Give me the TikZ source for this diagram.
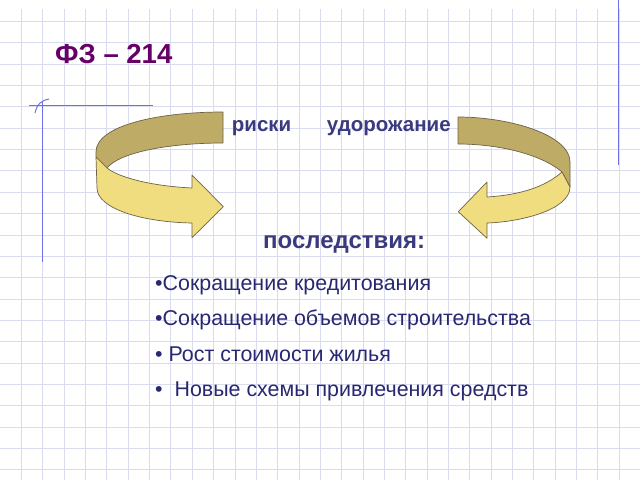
\documentclass[tikz,border=0pt]{standalone}
\usepackage{fontspec}
\setmainfont{Liberation Sans}
\usepackage{tikz}
\definecolor{gridc}{RGB}{218,221,240}
\definecolor{margc}{RGB}{112,112,228}
\definecolor{titlec}{RGB}{102,0,102}
\definecolor{labc}{RGB}{58,58,128}
\definecolor{itemc}{RGB}{40,40,112}
\definecolor{bandd}{RGB}{190,172,102}
\definecolor{bandl}{RGB}{240,221,128}
\definecolor{bandline}{RGB}{110,98,72}
\tikzstyle{gl}=[draw=gridc,
                line width=0.7pt]
\tikzstyle{ml}=[draw=margc,
                line width=1pt]
\tikzstyle{backband}=[fill=bandd,
                draw=bandline,
                line width=0.7pt,
                line join=round]
\tikzstyle{frontband}=[fill=bandl,
                draw=bandline,
                line width=0.7pt,
                line join=round]
\tikzstyle{ttl}=[text=titlec,
                font=\bfseries\fontsize{27.5}{32}\selectfont,
                inner sep=0pt,
                anchor=base west]
\tikzstyle{lab}=[text=labc,
                font=\bfseries\fontsize{20.5}{24}\selectfont,
                inner sep=0pt,
                anchor=base west]
\tikzstyle{item}=[text=itemc,
                font=\fontsize{21.4}{25}\selectfont,
                inner sep=0pt,
                anchor=base west]
\begin{document}
\begin{tikzpicture}[x=1pt,y=-1pt]
\useasboundingbox[fill=white] (0,0) rectangle (640,480);

% grid
\foreach \k in {1,...,29} \draw[gl] (21.35*\k,9) -- (21.35*\k,480);
\foreach \k in {1,...,22} \draw[gl] (0,21.35*\k) -- (640,21.35*\k);

% margin lines
\draw[ml] (42.3,101) -- (42.3,262);
\draw[ml] (29,105.5) -- (153,105.5);
\draw[ml] (35,113) .. controls (37,104) and (42,100) .. (49,99);
\draw[ml] (618.5,0) -- (618.5,165);

% left arrow
\draw[backband] (223,112) .. controls (160,112) and (96,125) .. (96,152) -- (96,157) -- (107,168)
  .. controls (120,152) and (170,143) .. (223,143) -- cycle;
\draw[frontband] (96,157) -- (107,168) .. controls (118,177) and (150,186) .. (192,188)
  -- (192,175) -- (223.3,206.7) -- (192,237.7) -- (192,223)
  .. controls (140,222) and (97,208) .. (97,188) -- cycle;

% right arrow
\draw[backband] (458,117) .. controls (510,117) and (570,135) .. (570,162) -- (570,187) -- (562,172)
  .. controls (545,157) and (505,144) .. (458,144) -- cycle;
\draw[frontband] (562,172) .. controls (545,187) and (520,195) .. (487,197)
  -- (487,182) -- (458.3,211.7) -- (487,238.3) -- (487,223)
  .. controls (520,222) and (570,210) .. (570,187) -- cycle;

% title and labels
\node[ttl] (fz) at (55,63) {ФЗ – 214};
\node[lab] (risk) at (231.7,131) {риски};
\node[lab] (cost) at (326.7,131) {удорожание};
\node[lab,font=\bfseries\fontsize{24}{28}\selectfont] (cons) at (263,248) {последствия:};

% consequences
\node[item] (i1) at (155,290) {•Сокращение кредитования};
\node[item] (i2) at (155,325) {•Сокращение объемов строительства};
\node[item] (i3) at (155,361) {• Рост стоимости жилья};
\node[item] (i4) at (155,396.5) {•\ \ Новые схемы привлечения средств};

\end{tikzpicture}
\end{document}
